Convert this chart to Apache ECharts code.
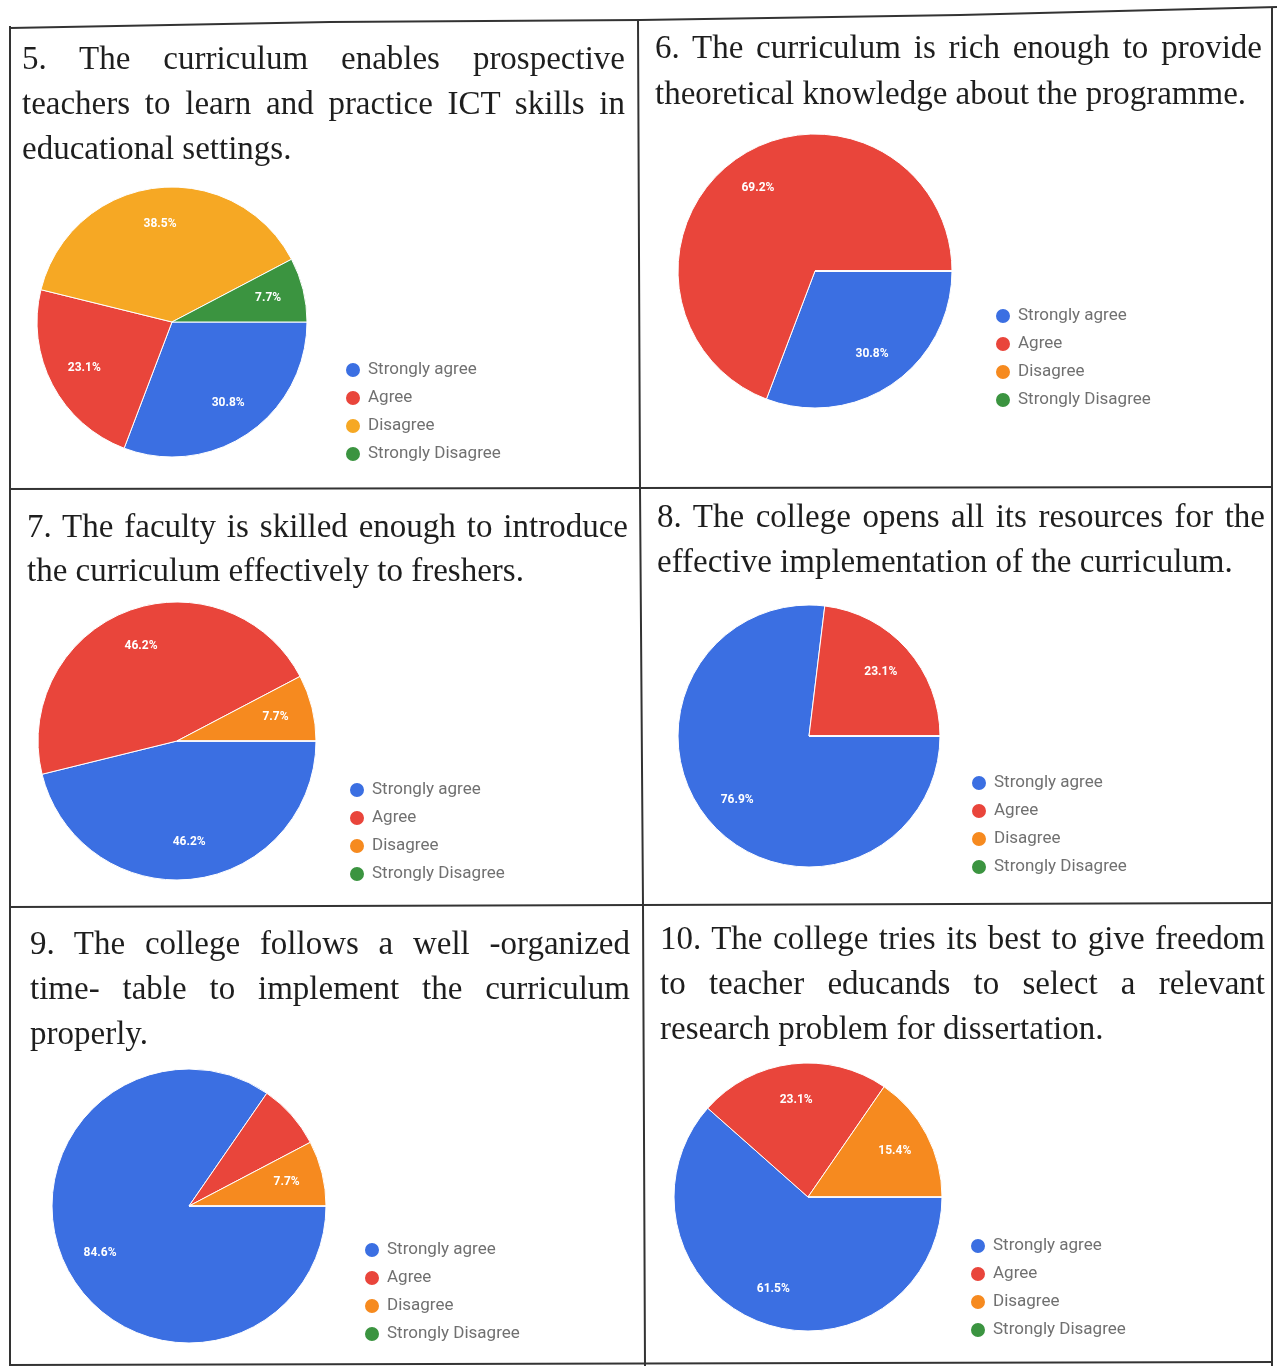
<!DOCTYPE html>
<html>
<head>
<meta charset="utf-8">
<script src="https://cdn.jsdelivr.net/npm/echarts@6/dist/echarts.min.js"></script>
<style>
  html, body { margin: 0; padding: 0; background: #fff; }
  #page { position: relative; width: 1277px; height: 1367px; overflow: hidden; }
  #chart { position: absolute; left: 0; top: 0; width: 1277px; height: 1367px; }
  .tline {
    position: absolute; height: 44px; line-height: 44px;
    font-family: 'Liberation Serif', 'Times New Roman', serif;
    font-size: 33px; color: #1e1e1e; text-align: justify; text-align-last: justify;
  }
  .tline.last { text-align-last: left; }
</style>
</head>
<body>
<div id="page">
  <div id="chart"></div>
</div>
<script>
// answer options, same for every question
const answerNames = ['Strongly agree', 'Agree', 'Disagree', 'Strongly Disagree'];

// number of respondents per answer (13 in total)
const q5Counts = [4, 3, 5, 1];
const q6Counts = [4, 9, 0, 0];
const q7Counts = [6, 6, 1, 0];
const q8Counts = [10, 3, 0, 0];
const q9Counts = [11, 1, 1, 0];
const q10Counts = [8, 3, 2, 0];

// question texts, one entry per printed line
const q5Title = ['5. The curriculum enables prospective', 'teachers to learn and practice ICT skills in', 'educational settings.'];
const q6Title = ['6. The curriculum is rich enough to provide', 'theoretical knowledge about the programme.'];
const q7Title = ['7. The faculty is skilled enough to introduce', 'the curriculum effectively to freshers.'];
const q8Title = ['8. The college opens all its resources for the', 'effective implementation of the curriculum.'];
const q9Title = ['9. The college follows a well -organized', 'time- table to implement the curriculum', 'properly.'];
const q10Title = ['10. The college tries its best to give freedom', 'to teacher educands to select a relevant', 'research problem for dissertation.'];

// labels Google left off (slice too thin)
const q9HiddenLabels = ['Agree'];

const blue = '#3b6fe2', red = '#e9453b', green = '#3b9440';
const yellowPalette = [blue, red, '#f6a824', green];
const orangePalette = [blue, red, '#f68a1f', green];

const panels = [
  { counts: q5Counts, title: q5Title, colors: yellowPalette, cx: 172, cy: 322, r: 135, lx: 347, ly: 366, tx: 22, tw: 603, ty: 58, tp: 45 },
  { counts: q6Counts, title: q6Title, colors: orangePalette, cx: 815, cy: 271, r: 137, lx: 997, ly: 312, tx: 655, tw: 607, ty: 47, tp: 46 },
  { counts: q7Counts, title: q7Title, colors: orangePalette, cx: 177, cy: 741, r: 139, lx: 351, ly: 786, tx: 27, tw: 601, ty: 526, tp: 44 },
  { counts: q8Counts, title: q8Title, colors: orangePalette, cx: 809, cy: 736, r: 131, lx: 973, ly: 779, tx: 657, tw: 608, ty: 516, tp: 45 },
  { counts: q9Counts, title: q9Title, colors: orangePalette, cx: 189, cy: 1206, r: 137, lx: 366, ly: 1246, tx: 30, tw: 600, ty: 943, tp: 45, hide: q9HiddenLabels },
  { counts: q10Counts, title: q10Title, colors: orangePalette, cx: 808, cy: 1197, r: 134, lx: 972, ly: 1242, tx: 660, tw: 605, ty: 938, tp: 45 }
];

// question texts as html lines
const page = document.getElementById('page');
panels.forEach(p => {
  p.title.forEach((line, i) => {
    const d = document.createElement('div');
    d.className = 'tline' + (i === p.title.length - 1 ? ' last' : '');
    d.style.left = p.tx + 'px';
    d.style.width = p.tw + 'px';
    d.style.top = (p.ty + i * p.tp - 22) + 'px';
    d.textContent = line;
    page.appendChild(d);
  });
});

const chart = echarts.init(document.getElementById('chart'), null, { renderer: 'canvas' });

const series = [];
const legends = [];
panels.forEach(p => {
  const total = p.counts.reduce((a, b) => a + b, 0);
  series.push({
    type: 'pie',
    center: [p.cx, p.cy],
    radius: [0, p.r],
    startAngle: 0,
    clockwise: true,
    label: { show: false },
    labelLine: { show: false },
    emphasis: { disabled: true },
    itemStyle: { borderColor: '#fff', borderWidth: 1 },
    data: answerNames.map((n, i) => ({
      name: n,
      value: p.counts[i],
      itemStyle: { color: p.colors[i] }
    }))
  });
  // transparent ring only used to place the percentages at ~0.7 r
  series.push({
    type: 'pie',
    center: [p.cx, p.cy],
    radius: [Math.round(p.r * 0.42), p.r],
    startAngle: 0,
    clockwise: true,
    silent: true,
    emphasis: { disabled: true },
    itemStyle: { color: 'rgba(0,0,0,0)', borderWidth: 0 },
    labelLine: { show: false },
    label: {
      show: true,
      position: 'inside',
      color: '#fff',
      fontSize: 12,
      fontWeight: 'bold',
      fontFamily: 'Roboto, Arial, sans-serif',
      formatter: d => {
        if (!d.value) return '';
        if (p.hide && p.hide.includes(d.name)) return '';
        return (d.value / total * 100).toFixed(1) + '%';
      }
    },
    data: answerNames.map((n, i) => ({ name: n, value: p.counts[i] }))
  });
  legends.push({
    orient: 'vertical',
    left: p.lx - 8,
    top: p.ly - 10,
    icon: 'circle',
    itemWidth: 16,
    itemHeight: 16,
    itemGap: 10,
    selectedMode: false,
    textStyle: {
      color: '#707070',
      fontSize: 17,
      fontFamily: 'Roboto, Arial, sans-serif',
      padding: [0, 0, 0, 2]
    },
    data: answerNames.map((n, i) => ({ name: n, itemStyle: { color: p.colors[i] } }))
  });
});

// table rules of the scanned page
const rule = { stroke: '#333', lineWidth: 2 };
const lines = [
  [[10, 28], [330, 22], [640, 20], [960, 15], [1277, 7]],
  [[10, 26], [10, 1366]],
  [[1272, 8], [1272, 1366]],
  [[638, 20], [640, 489], [643, 906], [645, 1366]],
  [[10, 489], [1272, 487]],
  [[10, 907], [1272, 903]],
  [[10, 1365], [1272, 1362]]
];

chart.setOption({
  backgroundColor: '#fff',
  animation: false,
  legend: legends,
  series: series,
  graphic: lines.map(pts => ({
    type: 'polyline',
    shape: { points: pts },
    style: rule,
    silent: true
  }))
});
</script>
</body>
</html>
